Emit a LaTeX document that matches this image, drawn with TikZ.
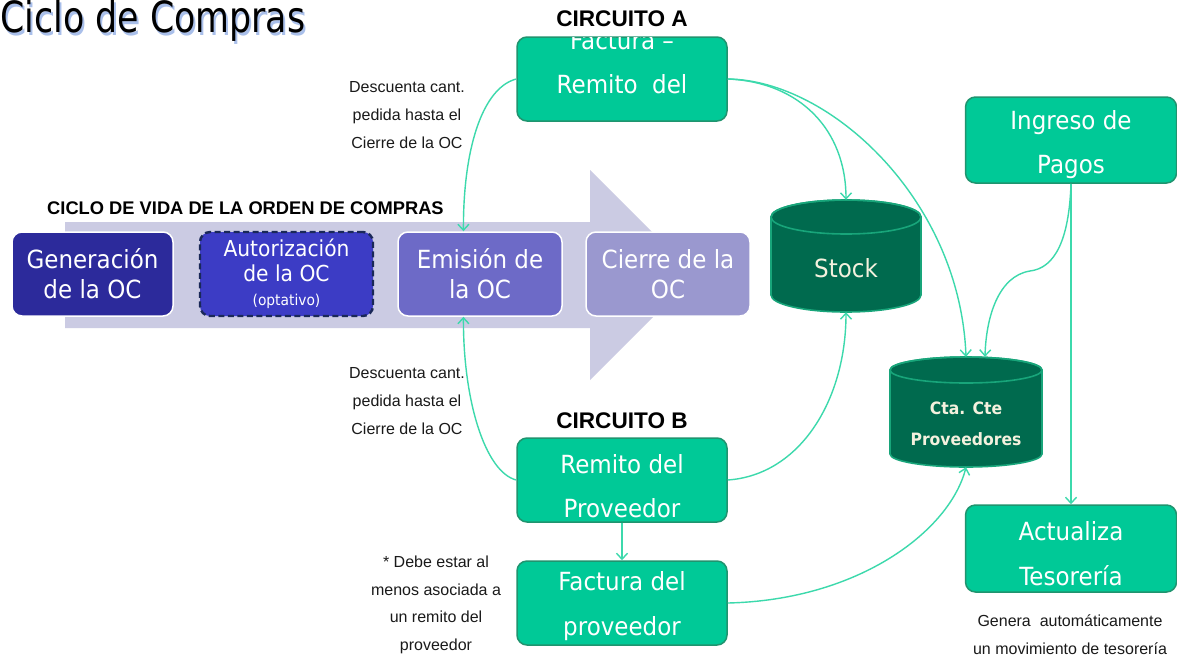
\documentclass[tikz,border=0pt]{standalone}
\usepackage{fontspec}
\setmainfont{Liberation Sans}
\newfontfamily\tah[FakeStretch=0.92]{DejaVu Sans}
\newfontfamily\tahtitle[FakeStretch=0.81]{DejaVu Sans}
\usetikzlibrary{arrows.meta,calc}
\definecolor{gfill}{HTML}{00C997}
\definecolor{gborder}{HTML}{20946F}
\definecolor{conn}{HTML}{3CD9AC}
\definecolor{cylfill}{HTML}{006A4E}
\definecolor{cylborder}{HTML}{18A57A}
\definecolor{lav}{HTML}{CBCBE3}
\definecolor{pone}{HTML}{2C2A9B}
\definecolor{ptwo}{HTML}{3C3CC5}
\definecolor{ptwoborder}{HTML}{1A2858}
\definecolor{pthree}{HTML}{6D6AC7}
\definecolor{pfour}{HTML}{9A98CF}
\definecolor{txtdark}{HTML}{1A1A1A}
\definecolor{shadowblue}{HTML}{A9BFEA}
\definecolor{cream}{HTML}{F4F1DE}
\tikzset{
  gbox/.style={draw=gborder, fill=gfill, line width=1.5pt, rounded corners=10pt,
    minimum width=210pt, minimum height=84pt, inner sep=0pt},
  gtext/.style={text=white, align=center, inner sep=0pt, font=\tah\fontsize{25}{44.5}\selectfont},
  pbox/.style={draw=white, line width=1.5pt, rounded corners=10pt,
    minimum height=84pt, inner sep=0pt, text=white, align=center,
    font=\tah\fontsize{25}{30}\selectfont},
  anchorbox/.style={inner sep=0pt, draw=none},
  cyl/.style={fill=cylfill, draw=cylborder, line width=1.6pt},
  cylline/.style={draw=cylborder, line width=1.6pt},
  conn/.style={draw=conn, line width=1.4pt, -{Straight Barb[length=6pt,width=11pt]}},
  smalllbl/.style={text=txtdark, align=center, inner sep=0pt, font=\fontsize{16}{27.7}\selectfont},
  boldlbl/.style={text=black, inner sep=0pt, font=\bfseries\fontsize{22.6}{26}\selectfont},
}
\begin{document}
\begin{tikzpicture}[x=1pt,y=-1pt]
\useasboundingbox (0,0) rectangle (1177,656);
\fill[white] (0,0) rectangle (1177,656);

% title
\node[anchor=base west, inner sep=0pt, text=shadowblue, font=\tahtitle\fontsize{43}{46}\selectfont] (titleshadow) at (2,35) {Ciclo de Compras};
\node[anchor=base west, inner sep=0pt, text=black, font=\tahtitle\fontsize{43}{46}\selectfont] (title) at (0,32.5) {Ciclo de Compras};

% big lavender arrow
\fill[lav] (65,222) -- (590,222) -- (590,170) -- (695,275) -- (590,380) -- (590,328) -- (65,328) -- cycle;

\node[anchor=base west, inner sep=0pt, font=\bfseries\fontsize{18.3}{20}\selectfont] (ciclolbl) at (47,214) {CICLO DE VIDA DE LA ORDEN DE COMPRAS};

% purple boxes
\node[pbox, fill=pone, minimum width=161pt] (gen) at (92.5,274) {Generación\\de la OC};
\node[pbox, fill=ptwo, draw=ptwoborder, line width=2.4pt, dash pattern=on 6pt off 3.5pt, minimum width=173pt,
  font=\tah\fontsize{22}{25}\selectfont] (aut) at (286.5,274) {Autorización\\de la OC\\[-1pt]{\fontsize{15}{18}\selectfont(optativo)}};
\node[pbox, fill=pthree, minimum width=164pt] (em) at (480,274) {Emisión de\\la OC};
\node[pbox, fill=pfour, minimum width=164pt] (ci) at (668,274) {Cierre de la\\OC};

% green boxes
\node[gbox] (fr) at (622,79) {};
\begin{scope}
  \clip[rounded corners=10pt] (fr.south west) rectangle (fr.north east);
  \node[gtext] (frtext) at (622,62.5) {Factura –\\Remito\ \ del};
\end{scope}
\node[boldlbl] (circa) at (622,19) {CIRCUITO A};

\node[gbox] (rp) at (622,480) {};
\node[gtext] (rptext) at (622,486) {Remito del\\Proveedor};
\node[boldlbl] (circb) at (622,421) {CIRCUITO B};

\node[gbox] (fp) at (622,603) {};
\node[gtext] (fptext) at (622,606) {Factura del\\proveedor};

\node[gbox, minimum width=211pt, minimum height=86pt] (ing) at (1071,140) {};
\node[gtext] (ingtext) at (1071,144.5) {Ingreso de\\Pagos};

\node[gbox, minimum width=211pt, minimum height=87pt] (act) at (1071,548.5) {};
\node[gtext] (acttext) at (1071,553.5) {Actualiza\\Tesorería};

% Stock cylinder
\node[anchorbox, minimum width=150pt, minimum height=112pt] (stock) at (846,256) {};
\path[cyl] (771,217) -- (771,295) arc[start angle=180, end angle=360, x radius=75pt, y radius=17pt]
  -- (921,217) arc[start angle=0, end angle=180, x radius=75pt, y radius=17pt] -- cycle;
\draw[cylline] (846,217) ellipse [x radius=75pt, y radius=17pt];
\node[text=cream, inner sep=0pt, font=\tah\fontsize{25}{30}\selectfont] (stocktext) at (846,268) {Stock};

% Cta Cte cylinder
\node[anchorbox, minimum width=152pt, minimum height=110pt] (cta) at (966,412) {};
\path[cyl] (890,370) -- (890,454) arc[start angle=180, end angle=360, x radius=76pt, y radius=13pt]
  -- (1042,370) arc[start angle=0, end angle=180, x radius=76pt, y radius=13pt] -- cycle;
\draw[cylline] (966,370) ellipse [x radius=76pt, y radius=13pt];
\node[text=cream, align=center, inner sep=0pt, font=\tah\bfseries\fontsize{17}{31}\selectfont] (ctatext) at (966,423.5) {Cta. Cte\\Proveedores};

% small labels
\node[smalllbl] (lbla) at (407,115) {Descuenta cant.\\pedida hasta el\\Cierre de la OC};
\node[smalllbl] (lblb) at (407,401) {Descuenta cant.\\pedida hasta el\\Cierre de la OC};
\node[smalllbl] (lblc) at (436,605) {* Debe estar al\\menos asociada a\\un remito del\\proveedor};
\node[smalllbl] (lbld) at (1070,634.5) {Genera\ \ automáticamente\\un movimiento de tesorería};

% connectors
\draw[conn] (fr.west) .. controls (482,88) and (463,150) .. ($(em.north west)!0.4!(em.north east)$);
\draw[conn] (fr.east) .. controls (800,82) and (846,130) .. (stock.north);
\draw[conn] (fr.east) .. controls (830,80) and (960,200) .. (cta.north);
\draw[conn] (ing.south) .. controls (1069,240) and (1055,268) .. (1030,271)
  .. controls (998,276) and (986,318) .. ($(cta.north)+(19,0)$);
\draw[conn] (ing.south) -- (act.north);
\draw[conn] (rp.west) .. controls (485,472) and (463,400) .. ($(em.south west)!0.4!(em.south east)$);
\draw[conn] (rp.east) .. controls (800,475) and (846,400) .. (stock.south);
\draw[conn] (rp.south) -- (fp.north);
\draw[conn] (fp.east) .. controls (860,600) and (950,530) .. (cta.south);
\end{tikzpicture}
\end{document}
